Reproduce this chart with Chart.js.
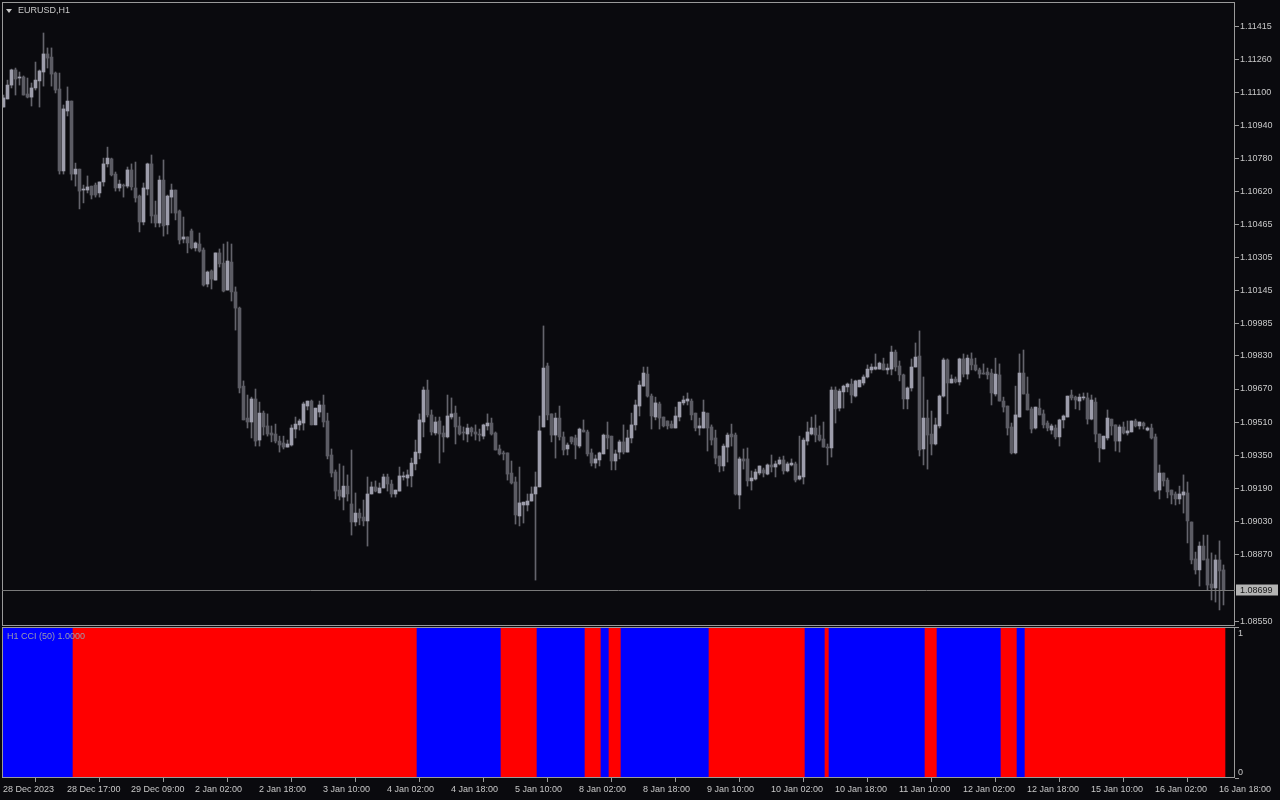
<!DOCTYPE html>
<html>
<head>
<meta charset="utf-8">
<script src="https://cdn.jsdelivr.net/npm/chart.js@4.4.0/dist/chart.umd.min.js"></script>
<style>
  html, body { margin: 0; padding: 0; background: #0a0a0e; }
  #wrap { position: relative; width: 1280px; height: 800px; overflow: hidden; background: #0a0a0e; }
  #main { position: absolute; left: 0; top: 0; }
  #ind { position: absolute; left: 0; top: 626px; }
  .lbl { position: absolute; font-family: "Liberation Sans", Arial, sans-serif; font-size: 9px; line-height: 11px; white-space: nowrap; }
  #title { left: 18px; top: 5px; color: #c8c8c8; }
  #tri { position: absolute; left: 6px; top: 9px; width: 0; height: 0; border-left: 3px solid transparent; border-right: 3px solid transparent; border-top: 4px solid #c8c8c8; }
  #cciName { left: 7px; top: 631px; color: #9a9aae; }
</style>
</head>
<body>
<div id="wrap">
  <canvas id="main" width="1280" height="626"></canvas>
  <canvas id="ind" width="1280" height="174"></canvas>
  <div id="tri"></div>
  <div id="title" class="lbl">EURUSD,H1</div>
  <div id="cciName" class="lbl">H1 CCI (50) 1.0000</div>
</div>
<script>
// EURUSD H1 candles, one per hour, oldest first
const opens = [
	1.11029,1.11068,1.11135,1.11208,1.11169,1.11174,1.11092,1.11077,1.11121,1.11155,
	1.11198,1.11285,1.11270,1.11193,1.11116,1.10721,1.11010,1.11058,1.10706,1.10730,
	1.10629,1.10629,1.10648,1.10653,1.10615,1.10668,1.10755,1.10779,1.10706,1.10639,
	1.10653,1.10648,1.10726,1.10639,1.10600,1.10475,1.10634,1.10755,1.10509,1.10470,
	1.10677,1.10461,1.10595,1.10629,1.10528,1.10393,1.10403,1.10432,1.10350,1.10369,
	1.10340,1.10176,1.10239,1.10195,1.10326,1.10277,1.10147,1.10282,1.10138,1.10060,
	1.09684,1.09530,1.09511,1.09622,1.09424,1.09554,1.09492,1.09458,1.09453,1.09419,
	1.09410,1.09390,1.09400,1.09477,1.09497,1.09506,1.09588,1.09612,1.09497,1.09559,
	1.09593,1.09516,1.09352,1.09270,1.09183,1.09149,1.09202,1.09116,1.09029,1.09072,
	1.09053,1.09034,1.09164,1.09198,1.09169,1.09193,1.09246,1.09212,1.09164,1.09178,
	1.09246,1.09241,1.09251,1.09309,1.09362,1.09511,1.09665,1.09545,1.09458,1.09516,
	1.09458,1.09439,1.09535,1.09554,1.09492,1.09463,1.09453,1.09482,1.09463,1.09453,
	1.09443,1.09492,1.09506,1.09458,1.09381,1.09362,1.09362,1.09265,1.09222,1.09058,
	1.09111,1.09111,1.09130,1.09164,1.09198,1.09487,1.09781,1.09550,1.09448,1.09530,
	1.09439,1.09381,1.09439,1.09434,1.09395,1.09472,1.09463,1.09362,1.09313,1.09328,
	1.09357,1.09448,1.09443,1.09323,1.09366,1.09415,1.09366,1.09434,1.09497,1.09588,
	1.09684,1.09742,1.09636,1.09535,1.09598,1.09535,1.09516,1.09501,1.09482,1.09535,
	1.09603,1.09612,1.09612,1.09554,1.09482,1.09482,1.09554,1.09487,1.09434,1.09347,
	1.09299,1.09390,1.09453,1.09448,1.09159,1.09333,1.09333,1.09227,1.09236,1.09265,
	1.09280,1.09260,1.09304,1.09294,1.09309,1.09328,1.09275,1.09304,1.09309,1.09236,
	1.09246,1.09419,1.09453,1.09482,1.09448,1.09429,1.09390,1.09386,1.09665,1.09578,
	1.09656,1.09680,1.09694,1.09636,1.09680,1.09699,1.09728,1.09762,1.09766,1.09766,
	1.09791,1.09762,1.09766,1.09848,1.09781,1.09738,1.09622,1.09675,1.09776,1.09829,
	1.09381,1.09530,1.09453,1.09405,1.09492,1.09636,1.09810,1.09699,1.09718,1.09704,
	1.09815,1.09742,1.09815,1.09786,1.09762,1.09747,1.09752,1.09747,1.09646,1.09738,
	1.09612,1.09588,1.09487,1.09362,1.09535,1.09747,1.09646,1.09574,1.09482,1.09578,
	1.09550,1.09506,1.09472,1.09482,1.09439,1.09521,1.09535,1.09641,1.09631,1.09612,
	1.09627,1.09627,1.09525,1.09607,1.09453,1.09381,1.09434,1.09525,1.09497,1.09419,
	1.09487,1.09458,1.09463,1.09516,1.09492,1.09506,1.09472,1.09482,1.09439,1.09183,
	1.09265,1.09231,1.09183,1.09164,1.09140,1.09159,1.09169,1.09029,1.08851,1.08798,
	1.08913,1.08851,1.08730,1.08711,1.08846,1.08798
];
const highs = [
	1.11087,1.11159,1.11212,1.11217,1.11198,1.11179,1.11169,1.11145,1.11246,1.11208,
	1.11386,1.11314,1.11314,1.11198,1.11193,1.11039,1.11126,1.11058,1.10759,1.10730,
	1.10653,1.10697,1.10648,1.10663,1.10668,1.10783,1.10836,1.10783,1.10716,1.10677,
	1.10658,1.10740,1.10755,1.10764,1.10605,1.10663,1.10759,1.10798,1.10576,1.10697,
	1.10774,1.10605,1.10658,1.10629,1.10533,1.10499,1.10403,1.10441,1.10379,1.10422,
	1.10350,1.10239,1.10244,1.10326,1.10345,1.10369,1.10379,1.10369,1.10162,1.10065,
	1.09709,1.09641,1.09631,1.09670,1.09607,1.09564,1.09550,1.09492,1.09501,1.09443,
	1.09443,1.09424,1.09497,1.09535,1.09525,1.09607,1.09612,1.09617,1.09578,1.09612,
	1.09641,1.09554,1.09381,1.09280,1.09309,1.09299,1.09256,1.09376,1.09169,1.09092,
	1.09135,1.09246,1.09222,1.09227,1.09217,1.09260,1.09260,1.09231,1.09183,1.09294,
	1.09270,1.09280,1.09337,1.09424,1.09550,1.09680,1.09713,1.09569,1.09535,1.09535,
	1.09492,1.09641,1.09627,1.09588,1.09535,1.09487,1.09501,1.09487,1.09497,1.09477,
	1.09501,1.09550,1.09530,1.09463,1.09400,1.09371,1.09362,1.09323,1.09246,1.09294,
	1.09125,1.09164,1.09198,1.09270,1.09540,1.09974,1.09795,1.09550,1.09554,1.09588,
	1.09463,1.09410,1.09439,1.09448,1.09482,1.09521,1.09472,1.09381,1.09352,1.09366,
	1.09453,1.09511,1.09443,1.09376,1.09424,1.09497,1.09472,1.09554,1.09617,1.09709,
	1.09776,1.09776,1.09646,1.09631,1.09607,1.09535,1.09516,1.09516,1.09583,1.09607,
	1.09636,1.09651,1.09622,1.09554,1.09530,1.09617,1.09554,1.09497,1.09472,1.09347,
	1.09405,1.09458,1.09501,1.09458,1.09342,1.09381,1.09386,1.09275,1.09284,1.09299,
	1.09289,1.09309,1.09352,1.09323,1.09342,1.09347,1.09318,1.09333,1.09318,1.09443,
	1.09434,1.09511,1.09535,1.09545,1.09492,1.09511,1.09405,1.09680,1.09680,1.09670,
	1.09689,1.09699,1.09718,1.09713,1.09713,1.09738,1.09786,1.09791,1.09839,1.09800,
	1.09819,1.09791,1.09877,1.09858,1.09805,1.09742,1.09680,1.09815,1.09892,1.09950,
	1.09728,1.09617,1.09564,1.09530,1.09641,1.09819,1.09815,1.09738,1.09728,1.09819,
	1.09839,1.09834,1.09844,1.09819,1.09771,1.09791,1.09771,1.09766,1.09819,1.09791,
	1.09631,1.09588,1.09506,1.09684,1.09839,1.09858,1.09728,1.09583,1.09583,1.09622,
	1.09569,1.09516,1.09501,1.09497,1.09525,1.09545,1.09636,1.09665,1.09636,1.09646,
	1.09651,1.09651,1.09641,1.09627,1.09453,1.09443,1.09569,1.09525,1.09497,1.09497,
	1.09511,1.09516,1.09516,1.09525,1.09511,1.09511,1.09487,1.09501,1.09453,1.09304,
	1.09265,1.09241,1.09183,1.09174,1.09202,1.09256,1.09222,1.09029,1.08884,1.08933,
	1.08966,1.08966,1.08880,1.08870,1.08938,1.08822
];
const lows = [
	1.11029,1.11068,1.11121,1.11087,1.11135,1.11087,1.11073,1.11034,1.11111,1.11029,
	1.11130,1.11217,1.11130,1.11097,1.10706,1.10706,1.10986,1.10677,1.10648,1.10538,
	1.10567,1.10615,1.10586,1.10595,1.10595,1.10648,1.10740,1.10697,1.10624,1.10624,
	1.10595,1.10639,1.10629,1.10571,1.10427,1.10461,1.10605,1.10470,1.10451,1.10451,
	1.10407,1.10417,1.10518,1.10485,1.10369,1.10374,1.10326,1.10345,1.10335,1.10330,
	1.10166,1.10162,1.10152,1.10195,1.10258,1.10138,1.10147,1.10094,1.09954,1.09651,
	1.09521,1.09482,1.09434,1.09395,1.09395,1.09448,1.09443,1.09415,1.09410,1.09366,
	1.09381,1.09390,1.09395,1.09434,1.09472,1.09472,1.09569,1.09497,1.09497,1.09535,
	1.09487,1.09333,1.09246,1.09140,1.09135,1.09087,1.09130,1.08966,1.09010,1.09015,
	1.09010,1.08913,1.09164,1.09174,1.09169,1.09193,1.09178,1.09149,1.09149,1.09178,
	1.09231,1.09202,1.09198,1.09280,1.09333,1.09439,1.09535,1.09448,1.09448,1.09313,
	1.09366,1.09434,1.09525,1.09405,1.09448,1.09424,1.09415,1.09443,1.09424,1.09419,
	1.09429,1.09472,1.09448,1.09376,1.09352,1.09328,1.09231,1.09212,1.09019,1.09010,
	1.09024,1.09082,1.09130,1.08749,1.09198,1.09487,1.09521,1.09415,1.09337,1.09424,
	1.09352,1.09352,1.09405,1.09333,1.09386,1.09463,1.09347,1.09299,1.09289,1.09299,
	1.09357,1.09381,1.09280,1.09280,1.09333,1.09357,1.09366,1.09410,1.09472,1.09540,
	1.09684,1.09631,1.09477,1.09521,1.09477,1.09487,1.09477,1.09482,1.09482,1.09516,
	1.09593,1.09593,1.09521,1.09468,1.09448,1.09482,1.09371,1.09400,1.09309,1.09270,
	1.09275,1.09318,1.09395,1.09159,1.09092,1.09284,1.09202,1.09183,1.09231,1.09256,
	1.09246,1.09256,1.09270,1.09246,1.09304,1.09260,1.09270,1.09299,1.09222,1.09231,
	1.09212,1.09400,1.09448,1.09415,1.09419,1.09390,1.09304,1.09342,1.09506,1.09564,
	1.09578,1.09656,1.09603,1.09631,1.09680,1.09689,1.09723,1.09747,1.09762,1.09766,
	1.09762,1.09742,1.09738,1.09757,1.09709,1.09574,1.09574,1.09660,1.09776,1.09347,
	1.09304,1.09284,1.09352,1.09400,1.09482,1.09631,1.09550,1.09699,1.09699,1.09689,
	1.09728,1.09718,1.09762,1.09757,1.09723,1.09742,1.09718,1.09593,1.09636,1.09612,
	1.09559,1.09448,1.09357,1.09357,1.09535,1.09646,1.09569,1.09458,1.09477,1.09545,
	1.09482,1.09468,1.09453,1.09429,1.09395,1.09482,1.09535,1.09617,1.09574,1.09569,
	1.09617,1.09501,1.09521,1.09415,1.09318,1.09381,1.09424,1.09448,1.09371,1.09366,
	1.09453,1.09448,1.09463,1.09487,1.09477,1.09477,1.09468,1.09429,1.09174,1.09140,
	1.09202,1.09145,1.09116,1.09111,1.09116,1.09072,1.08928,1.08827,1.08778,1.08720,
	1.08846,1.08701,1.08653,1.08643,1.08605,1.08629
];
const closes = [
	1.11073,1.11135,1.11208,1.11164,1.11174,1.11087,1.11077,1.11121,1.11159,1.11203,
	1.11285,1.11265,1.11188,1.11111,1.10721,1.11020,1.11058,1.10706,1.10730,1.10624,
	1.10634,1.10644,1.10605,1.10605,1.10668,1.10755,1.10783,1.10702,1.10639,1.10658,
	1.10648,1.10726,1.10644,1.10591,1.10475,1.10639,1.10755,1.10504,1.10470,1.10677,
	1.10456,1.10600,1.10629,1.10518,1.10388,1.10403,1.10374,1.10350,1.10374,1.10335,
	1.10171,1.10234,1.10200,1.10326,1.10273,1.10142,1.10287,1.10138,1.10060,1.09675,
	1.09521,1.09511,1.09622,1.09419,1.09554,1.09487,1.09453,1.09448,1.09419,1.09400,
	1.09390,1.09405,1.09482,1.09501,1.09516,1.09598,1.09612,1.09497,1.09578,1.09593,
	1.09511,1.09347,1.09265,1.09178,1.09154,1.09202,1.09164,1.09029,1.09072,1.09048,
	1.09034,1.09164,1.09198,1.09178,1.09193,1.09246,1.09212,1.09164,1.09183,1.09251,
	1.09251,1.09256,1.09313,1.09366,1.09521,1.09665,1.09545,1.09463,1.09511,1.09453,
	1.09439,1.09540,1.09550,1.09487,1.09453,1.09458,1.09482,1.09463,1.09453,1.09448,
	1.09497,1.09506,1.09453,1.09376,1.09357,1.09357,1.09260,1.09217,1.09063,1.09121,
	1.09125,1.09130,1.09164,1.09198,1.09468,1.09771,1.09545,1.09448,1.09530,1.09439,
	1.09376,1.09400,1.09415,1.09400,1.09477,1.09463,1.09357,1.09313,1.09333,1.09362,
	1.09448,1.09434,1.09323,1.09357,1.09415,1.09366,1.09434,1.09497,1.09593,1.09689,
	1.09747,1.09636,1.09540,1.09603,1.09530,1.09492,1.09492,1.09482,1.09540,1.09607,
	1.09617,1.09622,1.09545,1.09482,1.09492,1.09559,1.09482,1.09424,1.09337,1.09299,
	1.09395,1.09448,1.09439,1.09164,1.09333,1.09323,1.09227,1.09241,1.09270,1.09299,
	1.09265,1.09304,1.09294,1.09309,1.09328,1.09275,1.09309,1.09313,1.09231,1.09251,
	1.09424,1.09463,1.09482,1.09448,1.09424,1.09390,1.09386,1.09665,1.09574,1.09660,
	1.09684,1.09694,1.09641,1.09709,1.09713,1.09728,1.09766,1.09776,1.09776,1.09795,
	1.09762,1.09771,1.09848,1.09776,1.09738,1.09622,1.09675,1.09776,1.09824,1.09376,
	1.09530,1.09448,1.09405,1.09497,1.09636,1.09810,1.09699,1.09718,1.09704,1.09815,
	1.09742,1.09819,1.09786,1.09762,1.09742,1.09742,1.09738,1.09651,1.09742,1.09612,
	1.09583,1.09482,1.09362,1.09545,1.09747,1.09646,1.09569,1.09477,1.09583,1.09545,
	1.09497,1.09482,1.09492,1.09439,1.09521,1.09540,1.09636,1.09627,1.09617,1.09631,
	1.09631,1.09525,1.09617,1.09453,1.09386,1.09443,1.09530,1.09492,1.09419,1.09487,
	1.09458,1.09468,1.09516,1.09492,1.09511,1.09492,1.09482,1.09434,1.09178,1.09265,
	1.09227,1.09174,1.09159,1.09140,1.09164,1.09174,1.09034,1.08846,1.08798,1.08913,
	1.08846,1.08725,1.08711,1.08846,1.08793,1.08699
];

// right-hand price scale labels
const priceTicks = [1.11415, 1.11260, 1.11100, 1.10940, 1.10780, 1.10620, 1.10465, 1.10305, 1.10145,
	1.09985, 1.09830, 1.09670, 1.09510, 1.09350, 1.09190, 1.09030, 1.08870, 1.08550];

// time labels, one every 16 bars
const timeLabels = ["28 Dec 2023", "28 Dec 17:00", "29 Dec 09:00", "2 Jan 02:00", "2 Jan 18:00",
	"3 Jan 10:00", "4 Jan 02:00", "4 Jan 18:00", "5 Jan 10:00", "8 Jan 02:00", "8 Jan 18:00",
	"9 Jan 10:00", "10 Jan 02:00", "10 Jan 18:00", "11 Jan 10:00", "12 Jan 02:00", "12 Jan 18:00",
	"15 Jan 10:00", "16 Jan 02:00", "16 Jan 18:00"];
const labelEvery = 16;

// CCI trend histogram: runs of [bars, 1 = above (blue) / -1 = below (red)]
const cciRuns = [[18, 1], [86, -1], [21, 1], [9, -1], [12, 1], [4, -1], [2, 1], [3, -1], [22, 1],
	[24, -1], [5, 1], [1, -1], [24, 1], [3, -1], [16, 1], [4, -1], [2, 1], [50, -1]];
const cciLevel = 1;

const frameColor = '#9a9a9a';
const textColor = '#c8c8c8';
const bullColor = '#9d9dab';
const bearColor = '#5c5c64';
const wickColor = '#64646c';
const font = { family: 'Liberation Sans', size: 9 };

let bodies = [];
let wicks = [];
let bodyColors = [];
for (let i = 0; i < opens.length; i++) {
	bodies.push({ x: i, y: [opens[i], closes[i]] });
	wicks.push({ x: i, y: [lows[i], highs[i]] });
	bodyColors.push(closes[i] >= opens[i] ? bullColor : bearColor);
}

let cciData = [];
let cciColors = [];
let bar = 0;
cciRuns.forEach(function(run) {
	for (let k = 0; k < run[0]; k++) {
		cciData.push({ x: bar, y: cciLevel });
		cciColors.push(run[1] > 0 ? '#0000ff' : '#ff0000');
		bar++;
	}
});

// keep the plot area where the layout padding puts it
function noPad(s) {
	s.paddingTop = 0;
	s.paddingBottom = 0;
	s.paddingLeft = 0;
	s.paddingRight = 0;
}

const framePlugin = {
	id: 'frame',
	afterDraw(chart) {
		const a = chart.chartArea;
		const ctx = chart.ctx;
		ctx.save();
		ctx.strokeStyle = frameColor;
		ctx.lineWidth = 1;
		ctx.strokeRect(a.left + 0.5, a.top + 0.5, a.right - a.left - 1, a.bottom - a.top - 1);
		ctx.restore();
	}
};

const lastPricePlugin = {
	id: 'lastPrice',
	afterDraw(chart) {
		const a = chart.chartArea;
		const ctx = chart.ctx;
		const last = closes[closes.length - 1];
		const y = Math.round(chart.scales.y.getPixelForValue(last)) + 0.5;
		ctx.save();
		ctx.strokeStyle = '#7a7a7a';
		ctx.lineWidth = 1;
		ctx.beginPath();
		ctx.moveTo(a.left, y);
		ctx.lineTo(a.right, y);
		ctx.stroke();
		ctx.fillStyle = '#b4b4b4';
		ctx.fillRect(a.right + 1, y - 6, 42, 11);
		ctx.fillStyle = '#1a1a1a';
		ctx.font = '9px "Liberation Sans"';
		ctx.textBaseline = 'middle';
		ctx.fillText(last.toFixed(5), a.right + 5, y);
		ctx.restore();
	}
};

new Chart(document.getElementById('main'), {
	type: 'bar',
	data: {
		datasets: [
			{ data: bodies, backgroundColor: bodyColors, barThickness: 3, minBarLength: 1, grouped: false, borderWidth: 0 },
			{ data: wicks, backgroundColor: wickColor, barThickness: 1, grouped: false, borderWidth: 0 }
		]
	},
	options: {
		responsive: false,
		animation: false,
		devicePixelRatio: 1,
		layout: { padding: { left: 2, top: 2, right: 0, bottom: 0 } },
		plugins: { legend: { display: false }, tooltip: { enabled: false } },
		scales: {
			x: { type: 'linear', display: false, min: -0.375, max: 307.875, offset: false },
			y: {
				position: 'right',
				min: 1.085277,
				max: 1.115354,
				afterFit: function(s) { s.width = 45; noPad(s); },
				afterBuildTicks: function(s) { s.ticks = priceTicks.map(v => ({ value: v })); },
				grid: { drawOnChartArea: false, drawTicks: true, tickLength: 4, color: frameColor },
				border: { display: false },
				ticks: { autoSkip: false, padding: 1, color: textColor, font: font, callback: v => v.toFixed(5) }
			}
		}
	},
	plugins: [framePlugin, lastPricePlugin]
});

new Chart(document.getElementById('ind'), {
	type: 'bar',
	data: {
		datasets: [{ data: cciData, backgroundColor: cciColors, barThickness: 4, borderWidth: 0, yAxisID: 'y' }]
	},
	options: {
		responsive: false,
		animation: false,
		devicePixelRatio: 1,
		layout: { padding: { left: 2, top: 1, right: 0, bottom: 0 } },
		plugins: { legend: { display: false }, tooltip: { enabled: false } },
		scales: {
			x: {
				type: 'linear',
				position: 'bottom',
				min: -0.25,
				max: 308,
				offset: false,
				afterFit: function(s) { s.height = 22; noPad(s); },
				afterBuildTicks: function(s) { s.ticks = timeLabels.map((t, k) => ({ value: k * labelEvery })); },
				grid: { drawOnChartArea: false, drawTicks: true, tickLength: 4, color: frameColor },
				border: { display: false },
				ticks: { autoSkip: false, maxRotation: 0, align: 'start', padding: 2, color: textColor, font: font,
					callback: (v, k) => timeLabels[k] }
			},
			// value axis of the histogram: only its two tick marks are shown
			y: {
				position: 'right',
				weight: 0,
				min: 0,
				max: 1,
				afterFit: function(s) { s.width = 0; noPad(s); },
				afterBuildTicks: function(s) { s.ticks = [{ value: 0 }, { value: 1 }]; },
				grid: { drawOnChartArea: false, drawTicks: true, tickLength: 4, color: frameColor },
				border: { display: false },
				ticks: { display: false }
			},
			// labels "1" / "0" sit just inside the panel, as in the terminal
			yl: {
				position: 'right',
				weight: 1,
				min: -0.038,
				max: 1.046,
				afterFit: function(s) { s.width = 45; noPad(s); },
				afterBuildTicks: function(s) { s.ticks = [{ value: 0 }, { value: 1 }]; },
				grid: { display: false, drawTicks: false },
				border: { display: false },
				ticks: { padding: 3, color: textColor, font: font, callback: v => String(v) }
			}
		}
	},
	plugins: [framePlugin]
});
</script>
</body>
</html>
